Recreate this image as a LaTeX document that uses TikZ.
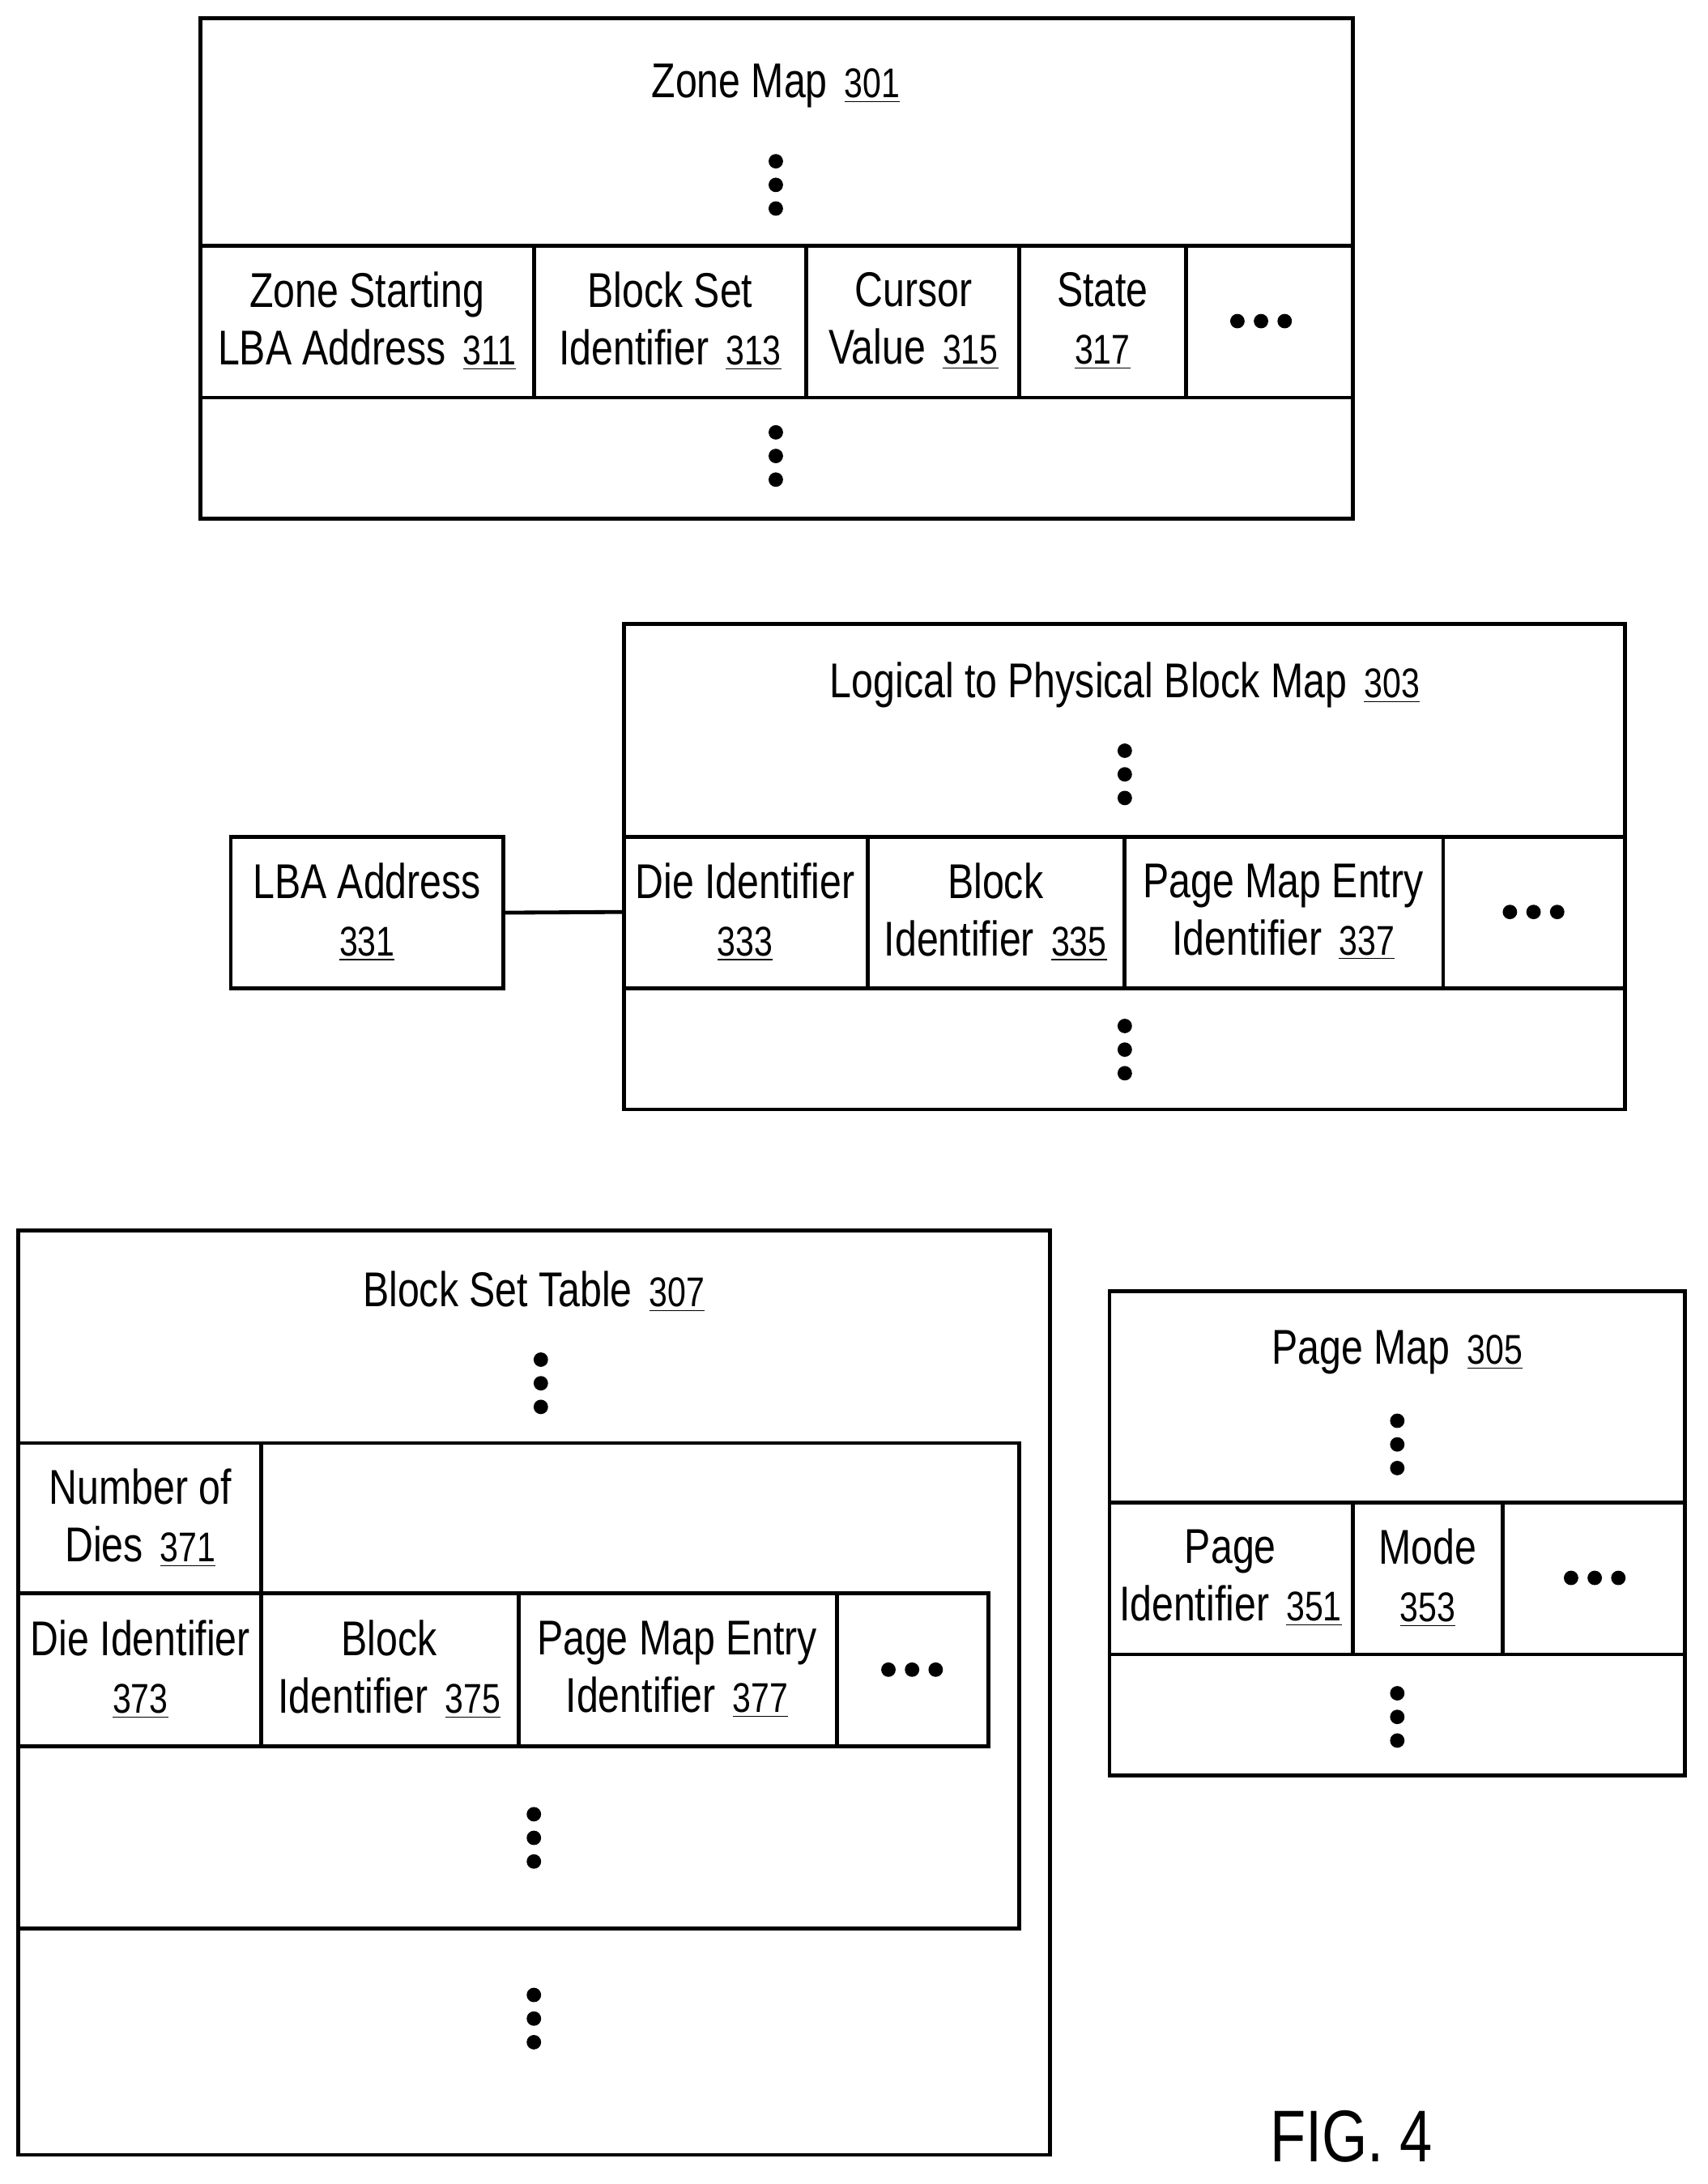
\documentclass[tikz,border=0pt]{standalone}
\usepackage{fontspec}
\setmainfont{Liberation Sans}[FakeStretch=0.80]
\begin{document}
\newcommand{\rb}[1]{{\fontsize{17}{20}\selectfont\underline{#1}}}
\newcommand{\rn}[1]{\hspace{0.35em}\rb{#1}}
\begin{tikzpicture}[x=0.02cm,y=-0.02cm,line width=1.6pt,
  txt/.style={align=center,font=\fontsize{20}{23.5}\selectfont,inner sep=0pt},
  box/.style={draw,line width=1.6pt}]
\useasboundingbox (0,0) rectangle (1228,1571);
\newcommand{\vd}[2]{\fill (#1,#2-17) circle (5.2) (#1,#2) circle (5.2) (#1,#2+17) circle (5.2);}
\newcommand{\hd}[2]{\fill (#1-17,#2) circle (5.2) (#1,#2) circle (5.2) (#1+17,#2) circle (5.2);}
% Zone map
\draw[box] (144,13) rectangle (973,373);
\draw (144,177) -- (973,177) (144,286) -- (973,286);
\draw (384,177)--(384,286) (580,177)--(580,286) (733,177)--(733,286) (853,177)--(853,286);
\node[txt] (zm) at (558,62) {Zone Map\rn{301}};
\vd{558}{133} \vd{558}{328} \hd{907}{231}
\node[txt] (z311) at (264,231) {Zone Starting\\LBA Address\rn{311}};
\node[txt] (z313) at (482,231) {Block Set\\Identifier\rn{313}};
\node[txt] (z315) at (657,231) {Cursor\\Value\rn{315}};
\node[txt] (z317) at (793,231) {State\\\rb{317}};
% LBP map
\draw[box] (449,449) rectangle (1169,798);
\draw (449,602)--(1169,602) (449,711)--(1169,711);
\draw (624,602)--(624,711) (809,602)--(809,711) (1038,602)--(1038,711);
\node[txt] (lp) at (809,493) {Logical to Physical Block Map\rn{303}};
\vd{809}{557} \vd{809}{755} \hd{1103}{656}
\node[txt] (l333) at (536,656) {Die Identifier\\\rb{333}};
\node[txt] (l335) at (716,656) {Block\\Identifier\rn{335}};
\node[txt] (l337) at (923,656) {Page Map Entry\\Identifier\rn{337}};
\node[box,minimum width=196*0.02cm,minimum height=109*0.02cm,inner sep=0pt] (lba) at (264,656.5) {};
\node[txt] (lbat) at (264,656) {LBA Address\\\rb{331}};
\coordinate (lpl) at (449,656);
\draw (lba.east) -- (lpl);
% Block set table
\draw[box] (13,885) rectangle (755,1550);
\draw (13,1038) -- (733,1038) -- (733,1387) -- (13,1387);
\draw (188,1038)--(188,1146) (13,1146)--(711,1146)--(711,1256)--(13,1256);
\draw (188,1146)--(188,1256) (373,1146)--(373,1256) (602,1146)--(602,1256);
\node[txt] (bs) at (384,929) {Block Set Table\rn{307}};
\vd{389}{995} \vd{384}{1322} \vd{384}{1452} \hd{656}{1201}
\node[txt] (b371) at (101,1092) {Number of\\Dies\rn{371}};
\node[txt] (b373) at (101,1201) {Die Identifier\\\rb{373}};
\node[txt] (b375) at (280,1201) {Block\\Identifier\rn{375}};
\node[txt] (b377) at (487,1201) {Page Map Entry\\Identifier\rn{377}};
% Page map
\draw[box] (798,929) rectangle (1212,1277);
\draw (798,1081)--(1212,1081) (798,1190)--(1212,1190);
\draw (973,1081)--(973,1190) (1081,1081)--(1081,1190);
\node[txt] (pm) at (1005,973) {Page Map\rn{305}};
\vd{1005}{1039} \vd{1005}{1235} \hd{1147}{1135}
\node[txt] (p351) at (885,1135) {Page\\Identifier\rn{351}};
\node[txt] (p353) at (1027,1135) {Mode\\\rb{353}};
\node[inner sep=0pt,font=\fontsize{30}{34}\selectfont] (fig) at (972,1537) {FIG. 4};
\end{tikzpicture}
\end{document}
